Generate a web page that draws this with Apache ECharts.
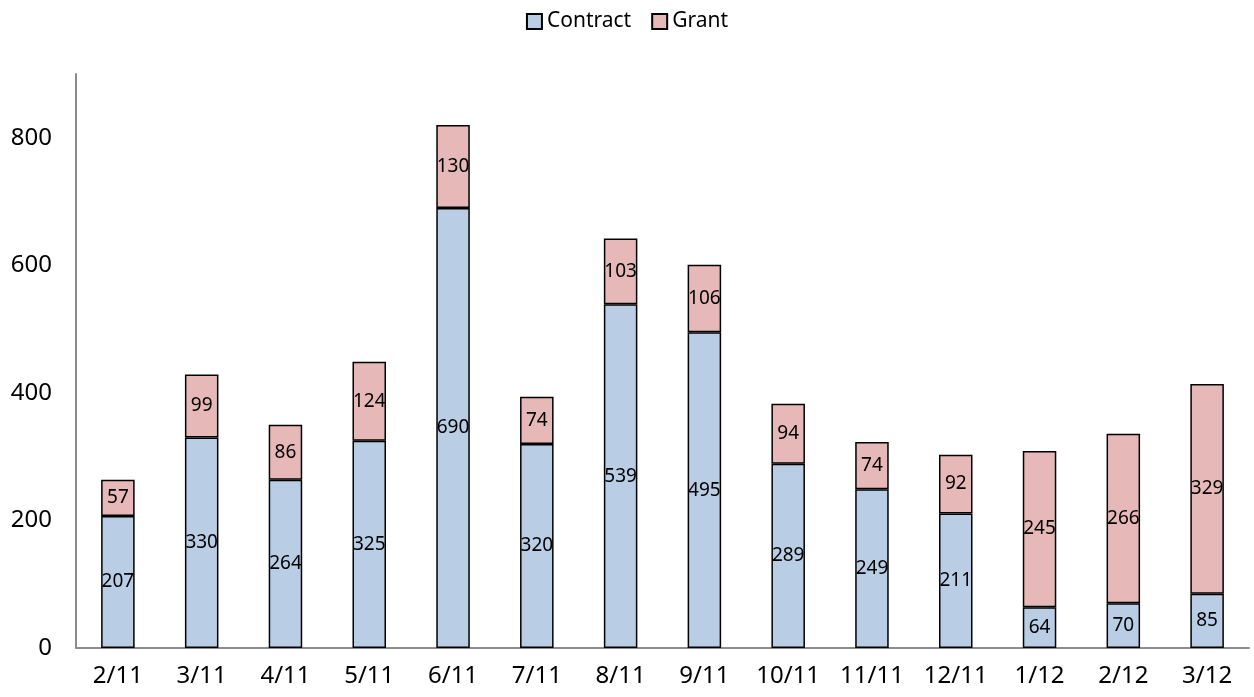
<!DOCTYPE html>
<html><head><meta charset="utf-8">
<script src="https://cdn.jsdelivr.net/npm/echarts@6/dist/echarts.min.js"></script>
<style>html,body{margin:0;padding:0;background:#fff}#c{width:1254px;height:697px}</style>
</head><body><div id="c"></div>
<script>
const categories = ['2/11','3/11','4/11','5/11','6/11','7/11','8/11','9/11','10/11','11/11','12/11','1/12','2/12','3/12'];
const contract = [207,330,264,325,690,320,539,495,289,249,211,64,70,85];
const grant = [57,99,86,124,130,74,103,106,94,74,92,245,266,329];
const yTicks = [0,200,400,600,800];

const font = '"Noto Sans", "Open Sans", sans-serif';
const chart = echarts.init(document.getElementById('c'));
const labelCfg = {show:true, position:'inside', color:'#000', fontSize:19, fontFamily:font};
chart.setOption({
  animation:false,
  legend:{top:6, left:'center', icon:'rect', itemWidth:15, itemHeight:15, itemGap:20,
    textStyle:{fontSize:21, fontFamily:font, color:'#000'},
    data:['Contract','Grant']},
  grid:{left:76, right:5, top:74, bottom:49, containLabel:false},
  xAxis:{type:'category', data:categories,
    axisLine:{lineStyle:{color:'#8c8c8c', width:2}},
    axisTick:{show:false},
    axisLabel:{fontSize:24, fontFamily:font, color:'#000', margin:16}},
  yAxis:{type:'value', min:0, max:900, interval:200,
    axisLine:{show:true, lineStyle:{color:'#8c8c8c', width:2}},
    axisTick:{show:false}, splitLine:{show:false},
    axisLabel:{fontSize:24, fontFamily:font, color:'#000', margin:24,
      formatter:v=> yTicks.includes(v) ? String(v) : ''},
    showMaxLabel:false},
  series:[
    {name:'Contract', type:'bar', stack:'a', data:contract, barWidth:'40%',
     itemStyle:{color:'#B9CDE5', borderColor:'#000', borderWidth:1.5}, label:labelCfg},
    {name:'Grant', type:'bar', stack:'a', data:grant, barWidth:'40%',
     itemStyle:{color:'#E6B9B8', borderColor:'#000', borderWidth:1.5}, label:labelCfg}
  ]
});
</script></body></html>
